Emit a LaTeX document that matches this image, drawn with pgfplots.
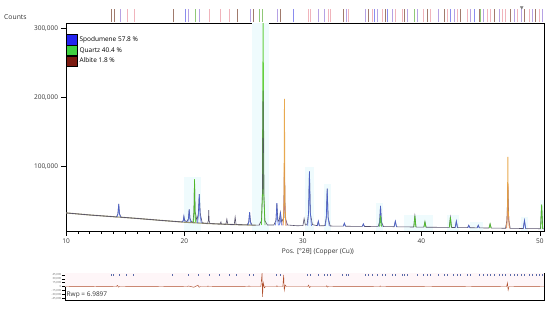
\documentclass[border=0pt]{standalone}
\usepackage{fontspec}
\setmainfont{Open Sans}
\usepackage{pgfplots}
\pgfplotsset{compat=1.18}
\usepackage{pgfplotstable}

\definecolor{obs}{HTML}{56506A}
\definecolor{olivebg}{HTML}{9A9570}
\definecolor{spod}{HTML}{4A66E0}
\definecolor{qtz}{HTML}{4CC81E}
\definecolor{siorg}{HTML}{E6A03C}
\definecolor{pinkcalc}{HTML}{C060B0}
\definecolor{band}{HTML}{EFFBFD}
\definecolor{legblue}{HTML}{2424F0}
\definecolor{leggreen}{HTML}{40D040}
\definecolor{legred}{HTML}{7B1A10}
\definecolor{stbrown}{HTML}{A07A6C}
\definecolor{stpurple}{HTML}{B6A2E4}
\definecolor{stpink}{HTML}{F0B4BC}
\definecolor{stblue}{HTML}{8A8CEE}
\definecolor{stgreen}{HTML}{90C878}
\definecolor{resid}{HTML}{B0502E}
\definecolor{respink}{HTML}{FEF6F8}
\definecolor{resmark}{HTML}{5A6AA8}

% reference line positions (top strip), h = strip height, r = residual marker level
\pgfplotstableread{
x h r
13.86 1 43000
14.06 1 43000
19.02 1 43000
24.43 1 43000
25.84 1 43000
28.09 1 43000
33.39 1 43000
35.56 1 43000
36.97 1 43000
38.57 1 43000
40.49 1 43000
41.90 1 43000
43.31 1 43000
44.86 1 43000
46.12 1 43000
47.53 1 43000
48.72 1 43000
49.65 1 43000
}\stkbrown
\pgfplotstableread{
x h r
14.56 1 43000
20.34 1 43000
21.24 1 43000
25.55 1 43000
27.81 1 43000
31.33 1 43000
31.81 1 43000
33.67 1 43000
35.27 1 43000
36.26 1 43000
37.53 1 43000
38.80 1 43000
39.70 1 43000
41.47 1 43000
42.74 1 43000
44.10 1 43000
45.22 1 43000
46.55 1 43000
47.81 1 43000
48.43 1 43000
49.37 1 43000
50.21 1 43000
}\stkpurple
\pgfplotstableread{
x h r
15.18 1 43000
15.78 1 43000
22.12 1 43000
23.02 1 43000
23.80 1 43000
30.43 1 43000
30.63 1 43000
32.12 1 43000
32.32 1 43000
33.87 1 43000
35.84 1 43000
36.69 1 43000
37.81 1 43000
38.38 1 43000
40.15 1 43000
40.77 1 43000
42.18 1 43000
43.03 1 43000
43.87 1 43000
45.56 1 43000
45.84 1 43000
46.83 1 43000
47.11 1 43000
48.10 1 43000
49.08 1 43000
49.93 1 43000
}\stkpink
\pgfplotstableread{
x h r
20.06 1 43000
29.22 1 43000
36.04 1 43000
37.16 1 43000
42.46 1 43000
44.43 1 43000
}\stkblue
\pgfplotstableread{
x h r
20.96 1 43000
26.35 1 43000
26.60 1 43000
39.42 1 43000
45.00 1 43000
}\stkgreen

\begin{document}
\begin{tikzpicture}
\path[use as bounding box] (0pt,0pt) rectangle (550pt,309pt);
\node[anchor=west, font=\fontsize{6.8}{8}\selectfont, text=black!80, inner sep=0pt] at (4pt,292pt) {Counts};

% ---------------- main pattern ----------------
\begin{axis}[
  at={(66pt,78pt)}, anchor=south west, scale only axis,
  width=478pt, height=208pt,
  xmin=10, xmax=50.35, ymin=6800, ymax=308000,
  xtick={10,20,30,40,50}, minor x tick num=9,
  ytick={100000,200000,300000},
  scaled y ticks=false,
  xtick pos=lower, ytick pos=left,
  tick align=outside,
  major tick length=4.5pt, minor tick length=2.5pt,
  tick style={black, line width=0.6pt},
  axis line style={black, line width=0.9pt},
  ticklabel style={font=\fontsize{6.5}{7}\selectfont, text=black!80},
  /pgf/number format/assume math mode=true,
  yticklabel style={/pgf/number format/.cd, fixed, 1000 sep={,}},
  xlabel={Pos. [°2θ] (Copper (Cu))},
  xlabel style={at={(axis description cs:0.527,0)}, anchor=north, yshift=-14pt,
                font=\fontsize{6.6}{7}\selectfont, text=black!80},
  legend image code/.code={\fill[#1] (0pt,-5.2pt) rectangle (11pt,5.2pt);},
  legend style={at={(0,1)}, yshift=-11pt, anchor=north west, draw=none, fill=none,
                inner sep=0pt, row sep=0pt, font=\fontsize{6.5}{7}\selectfont,
                /tikz/every even column/.append style={column sep=1pt}},
  legend cell align=left,
  unbounded coords=jump,
]
\addlegendimage{fill=legblue}
\addlegendentry{Spodumene 57.8 \%}
\addlegendimage{fill=leggreen}
\addlegendentry{Quartz 40.4 \%}
\addlegendimage{fill=legred}
\addlegendentry{Albite 1.8 \%}

% fit regions
\addplot[forget plot, fill=band, draw=none] coordinates {(20.0,85000) (21.4,85000)} \closedcycle;
\addplot[forget plot, fill=band, draw=none] coordinates {(25.7,308000) (27.1,308000)} \closedcycle;
\addplot[forget plot, fill=band, draw=none] coordinates {(30.15,100000) (30.9,100000)} \closedcycle;
\addplot[forget plot, fill=band, draw=none] coordinates {(31.8,75000) (32.35,75000)} \closedcycle;
\addplot[forget plot, fill=band, draw=none] coordinates {(36.2,48000) (36.8,48000)} \closedcycle;
\addplot[forget plot, fill=band, draw=none] coordinates {(38.5,30000) (41.0,30000)} \closedcycle;
\addplot[forget plot, fill=band, draw=none] coordinates {(42.2,30000) (43.2,30000)} \closedcycle;
\addplot[forget plot, fill=band, draw=none] coordinates {(44.1,20000) (45.2,20000)} \closedcycle;
\addplot[forget plot, fill=band, draw=none] coordinates {(48.4,27000) (49.0,27000)} \closedcycle;
\addplot[forget plot, fill=band, draw=none] coordinates {(50.0,52000) (50.35,52000)} \closedcycle;

% background
\addplot[forget plot, olivebg, line width=1.1pt] coordinates {
(10,33000) (12,30000) (14,27500) (16,25000) (18,22200) (20,19500) (22,17600) (24,16200) (26,15200)};

% observed
\addplot[forget plot, obs, line width=0.6pt] coordinates {
(10,33000) (12,30000) (14,27500)
(14.25,27000) (14.38,31500) (14.45,46000) (14.52,31500) (14.65,26800)
(16,25000) (18,22200) (19.7,20000)
(19.8,19900) (19.9,22000) (19.95,28000) (20.02,22000)
(20.2,20500) (20.33,24500) (20.4,38000) (20.47,24500) (20.6,20000)
(20.72,19500) (20.8,35000) (20.85,80000) (20.9,35000)
(21.05,22000) (21.17,32000) (21.25,60000) (21.33,32000) (21.5,18500)
(21.95,17800) (22.02,22000) (22.05,37000) (22.08,22000) (22.15,17600)
(23.0,16800) (23.08,20000) (23.12,16800)
(23.5,16500) (23.58,24000) (23.66,16400)
(24.2,16100) (24.28,27000) (24.36,16000)
(25.3,15600) (25.42,20000) (25.5,34000) (25.58,20000) (25.7,15400)
(26.3,15200) (26.5,22000) (26.58,60000) (26.64,210000) (26.7,60000) (26.78,22000) (27.0,15500)
(27.55,15500) (27.72,22000) (27.8,47000) (27.88,24000) (27.98,20000) (28.1,34000) (28.2,20000)
(28.38,26000) (28.44,100000) (28.5,26000) (28.7,15500)
(29.5,14400) (30.0,14600) (30.1,25000) (30.2,15500)
(30.35,16000) (30.47,32000) (30.55,93000) (30.63,32000) (30.8,16000)
(31.2,14500) (31.3,21000) (31.4,14300)
(31.85,14500) (31.97,26000) (32.05,68000) (32.13,26000) (32.3,14000)
(33.4,13800) (33.5,18000) (33.6,13700)
(35.0,13400) (35.1,17000) (35.2,13300)
(36.35,13500) (36.47,20000) (36.55,43000) (36.63,20000) (36.8,13200)
(37.7,13000) (37.8,21000) (37.9,12900)
(39.35,12600) (39.45,29000) (39.55,12500)
(40.2,12400) (40.3,20000) (40.4,12300)
(42.35,12000) (42.45,27000) (42.55,11900)
(42.85,11900) (42.95,21000) (43.05,11800)
(43.9,11600) (44.0,15000) (44.1,11500)
(44.7,11400) (44.8,15000) (44.9,11300)
(45.7,11100) (45.8,17000) (45.9,11000)
(47.1,10800) (47.22,22000) (47.3,70000) (47.38,22000) (47.5,10700)
(48.6,10400) (48.7,22000) (48.8,10300)
(50.05,10100) (50.15,45000) (50.25,10000) (50.35,9900)};

% spodumene
\addplot[forget plot, spod, line width=0.8pt, opacity=0.75] coordinates {
(14.3,27000) (14.39,31800) (14.45,46000) (14.51,31800) (14.6,26900) (14.6,nan)
(19.82,19900) (19.9,21900) (19.95,28000) (20.0,21900) (20.08,19800) (20.08,nan)
(20.27,19600) (20.34,24100) (20.4,38000) (20.46,24100) (20.53,19500) (20.53,nan)
(21.1,18700) (21.18,29000) (21.25,60000) (21.32,29000) (21.42,18500) (21.42,nan)
(25.37,15600) (25.44,20200) (25.5,34000) (25.56,20200) (25.63,15600) (25.63,nan)
(27.67,15000) (27.74,23000) (27.8,47000) (27.86,23000) (27.93,15000) (27.93,nan)
(28.0,15000) (28.05,19500) (28.1,34000) (28.15,19500) (28.22,14900) (28.22,nan)
(30.4,14400) (30.48,34000) (30.55,93000) (30.62,34000) (30.72,14300) (30.72,nan)
(31.22,14200) (31.3,21000) (31.38,14200) (31.38,nan)
(31.9,14100) (31.98,27500) (32.05,68000) (32.12,27500) (32.22,14000) (32.22,nan)
(33.42,13700) (33.5,18000) (33.58,13700) (33.58,nan)
(35.02,13400) (35.1,17000) (35.18,13400) (35.18,nan)
(36.42,13300) (36.49,20700) (36.55,43000) (36.61,20700) (36.7,13200) (36.7,nan)
(37.7,13000) (37.8,21000) (37.9,12900) (37.9,nan)
(42.86,11900) (42.95,21000) (43.04,11800) (43.04,nan)
(43.92,11600) (44.0,15000) (44.08,11500) (44.08,nan)
(44.72,11400) (44.8,15000) (44.88,11300) (44.88,nan)
(48.6,10400) (48.7,22000) (48.8,10300)};

% quartz
\addplot[forget plot, qtz, line width=0.8pt, opacity=0.85] coordinates {
(20.76,19200) (20.81,35000) (20.85,82000) (20.89,35000) (20.95,19000) (20.95,nan)
(26.5,15500) (26.58,60000) (26.64,340000) (26.7,60000) (26.8,15200) (26.8,nan)
(36.47,13300) (36.55,29000) (36.63,13200) (36.63,nan)
(39.37,12600) (39.45,29000) (39.53,12500) (39.53,nan)
(40.22,12400) (40.3,20000) (40.38,12300) (40.38,nan)
(42.37,12000) (42.45,27000) (42.53,11900) (42.53,nan)
(45.72,11100) (45.8,17000) (45.88,11000) (45.88,nan)
(50.07,10100) (50.15,45000) (50.23,10000)};

% observed core over the strongest peaks
\addplot[forget plot, obs, line width=0.6pt, opacity=0.8] coordinates {
(26.58,60000) (26.64,210000) (26.7,60000)};

% total calc (pink) and standard (orange)
\addplot[forget plot, pinkcalc, line width=0.7pt, opacity=0.7] coordinates {
(28.3,15000) (28.4,40000) (28.44,105000) (28.48,40000) (28.6,14700) (28.6,nan)
(47.18,10800) (47.26,28000) (47.3,75000) (47.34,28000) (47.45,10700)};
\addplot[forget plot, siorg, line width=0.8pt, opacity=0.9] coordinates {
(28.34,15000) (28.4,50000) (28.44,198000) (28.48,50000) (28.56,14700) (28.56,nan)
(47.2,10800) (47.26,35000) (47.3,114000) (47.34,35000) (47.42,10700)};
\end{axis}

% ---------------- reference lines strip ----------------
\begin{axis}[
  at={(66pt,287pt)}, anchor=south west, scale only axis,
  width=478pt, height=13pt,
  xmin=10, xmax=50.35, ymin=0, ymax=1,
  hide axis, clip=false,
]
\addplot[ycomb, stbrown, line width=0.7pt, mark=none] table[x=x, y=h] {\stkbrown};
\addplot[ycomb, stpurple, line width=0.7pt, mark=none] table[x=x, y=h] {\stkpurple};
\addplot[ycomb, stpink, line width=0.7pt, mark=none] table[x=x, y=h] {\stkpink};
\addplot[ycomb, stblue, line width=0.7pt, mark=none] table[x=x, y=h] {\stkblue};
\addplot[ycomb, stgreen, line width=0.7pt, mark=none] table[x=x, y=h] {\stkgreen};
\addplot[only marks, mark=triangle*, mark size=1.6pt, gray, mark options={rotate=180}] coordinates {(48.47,1.12)};
\end{axis}

% ---------------- difference plot ----------------
\begin{axis}[
  at={(65pt,9pt)}, anchor=south west, scale only axis,
  width=479pt, height=27pt,
  xmin=10, xmax=50.35, ymin=-52000, ymax=52000,
  xtick=\empty,
  ytick={-45000,-30000,-15000,0,15000,30000,45000},
  scaled y ticks=false,
  ytick pos=left, tick align=outside,
  major tick length=3pt,
  tick style={black, line width=0.4pt},
  axis line style={black, line width=1pt},
  yticklabel style={font=\fontsize{2.8}{3}\selectfont, text=black!60, inner sep=0.5pt,
                    /pgf/number format/.cd, fixed, 1000 sep={,}},
  /pgf/number format/assume math mode=true,
]
\addplot[fill=respink, draw=none] coordinates {(10,52000) (50.35,52000)} \closedcycle;
\addplot[only marks, mark=|, mark size=0.9pt, resmark, line width=0.35pt] table[x=x, y=r] {\stkpurple};
\addplot[only marks, mark=|, mark size=0.9pt, resmark, line width=0.35pt] table[x=x, y=r] {\stkpink};
\addplot[only marks, mark=|, mark size=0.9pt, resmark, line width=0.35pt] table[x=x, y=r] {\stkbrown};
\addplot[resid, line width=0.45pt] coordinates {
(10,0) (12,600) (13,-500) (14.3,0) (14.42,4000) (14.5,-2500) (14.6,0) (17,500) (19,-400)
(20.3,0) (20.4,2000) (20.85,-3000) (21.2,5000) (21.3,-3000) (21.4,0)
(22.0,0) (22.05,2000) (22.1,0) (24,-600) (25.4,0) (25.5,2000) (25.6,0)
(26.5,0) (26.6,52000) (26.64,-40000) (26.7,15000) (26.8,-5000) (26.9,0)
(27.8,0) (27.85,3000) (27.9,0)
(28.35,0) (28.42,45000) (28.47,-15000) (28.55,5000) (28.65,0)
(30.45,0) (30.52,5000) (30.6,-4000) (30.7,0)
(32.0,0) (32.05,3000) (32.1,-2000) (32.2,0) (34,500)
(36.5,0) (36.55,2000) (36.6,0) (39,-500) (42.5,600) (45,-400)
(47.2,0) (47.27,14000) (47.33,-14000) (47.4,0) (49,400) (50.35,0)};
\node[anchor=south west, font=\fontsize{6.5}{7}\selectfont, text=black!80, inner sep=1.5pt]
  at (axis description cs:0,0) {Rwp = 6.9897};
\end{axis}
\end{tikzpicture}
\end{document}
